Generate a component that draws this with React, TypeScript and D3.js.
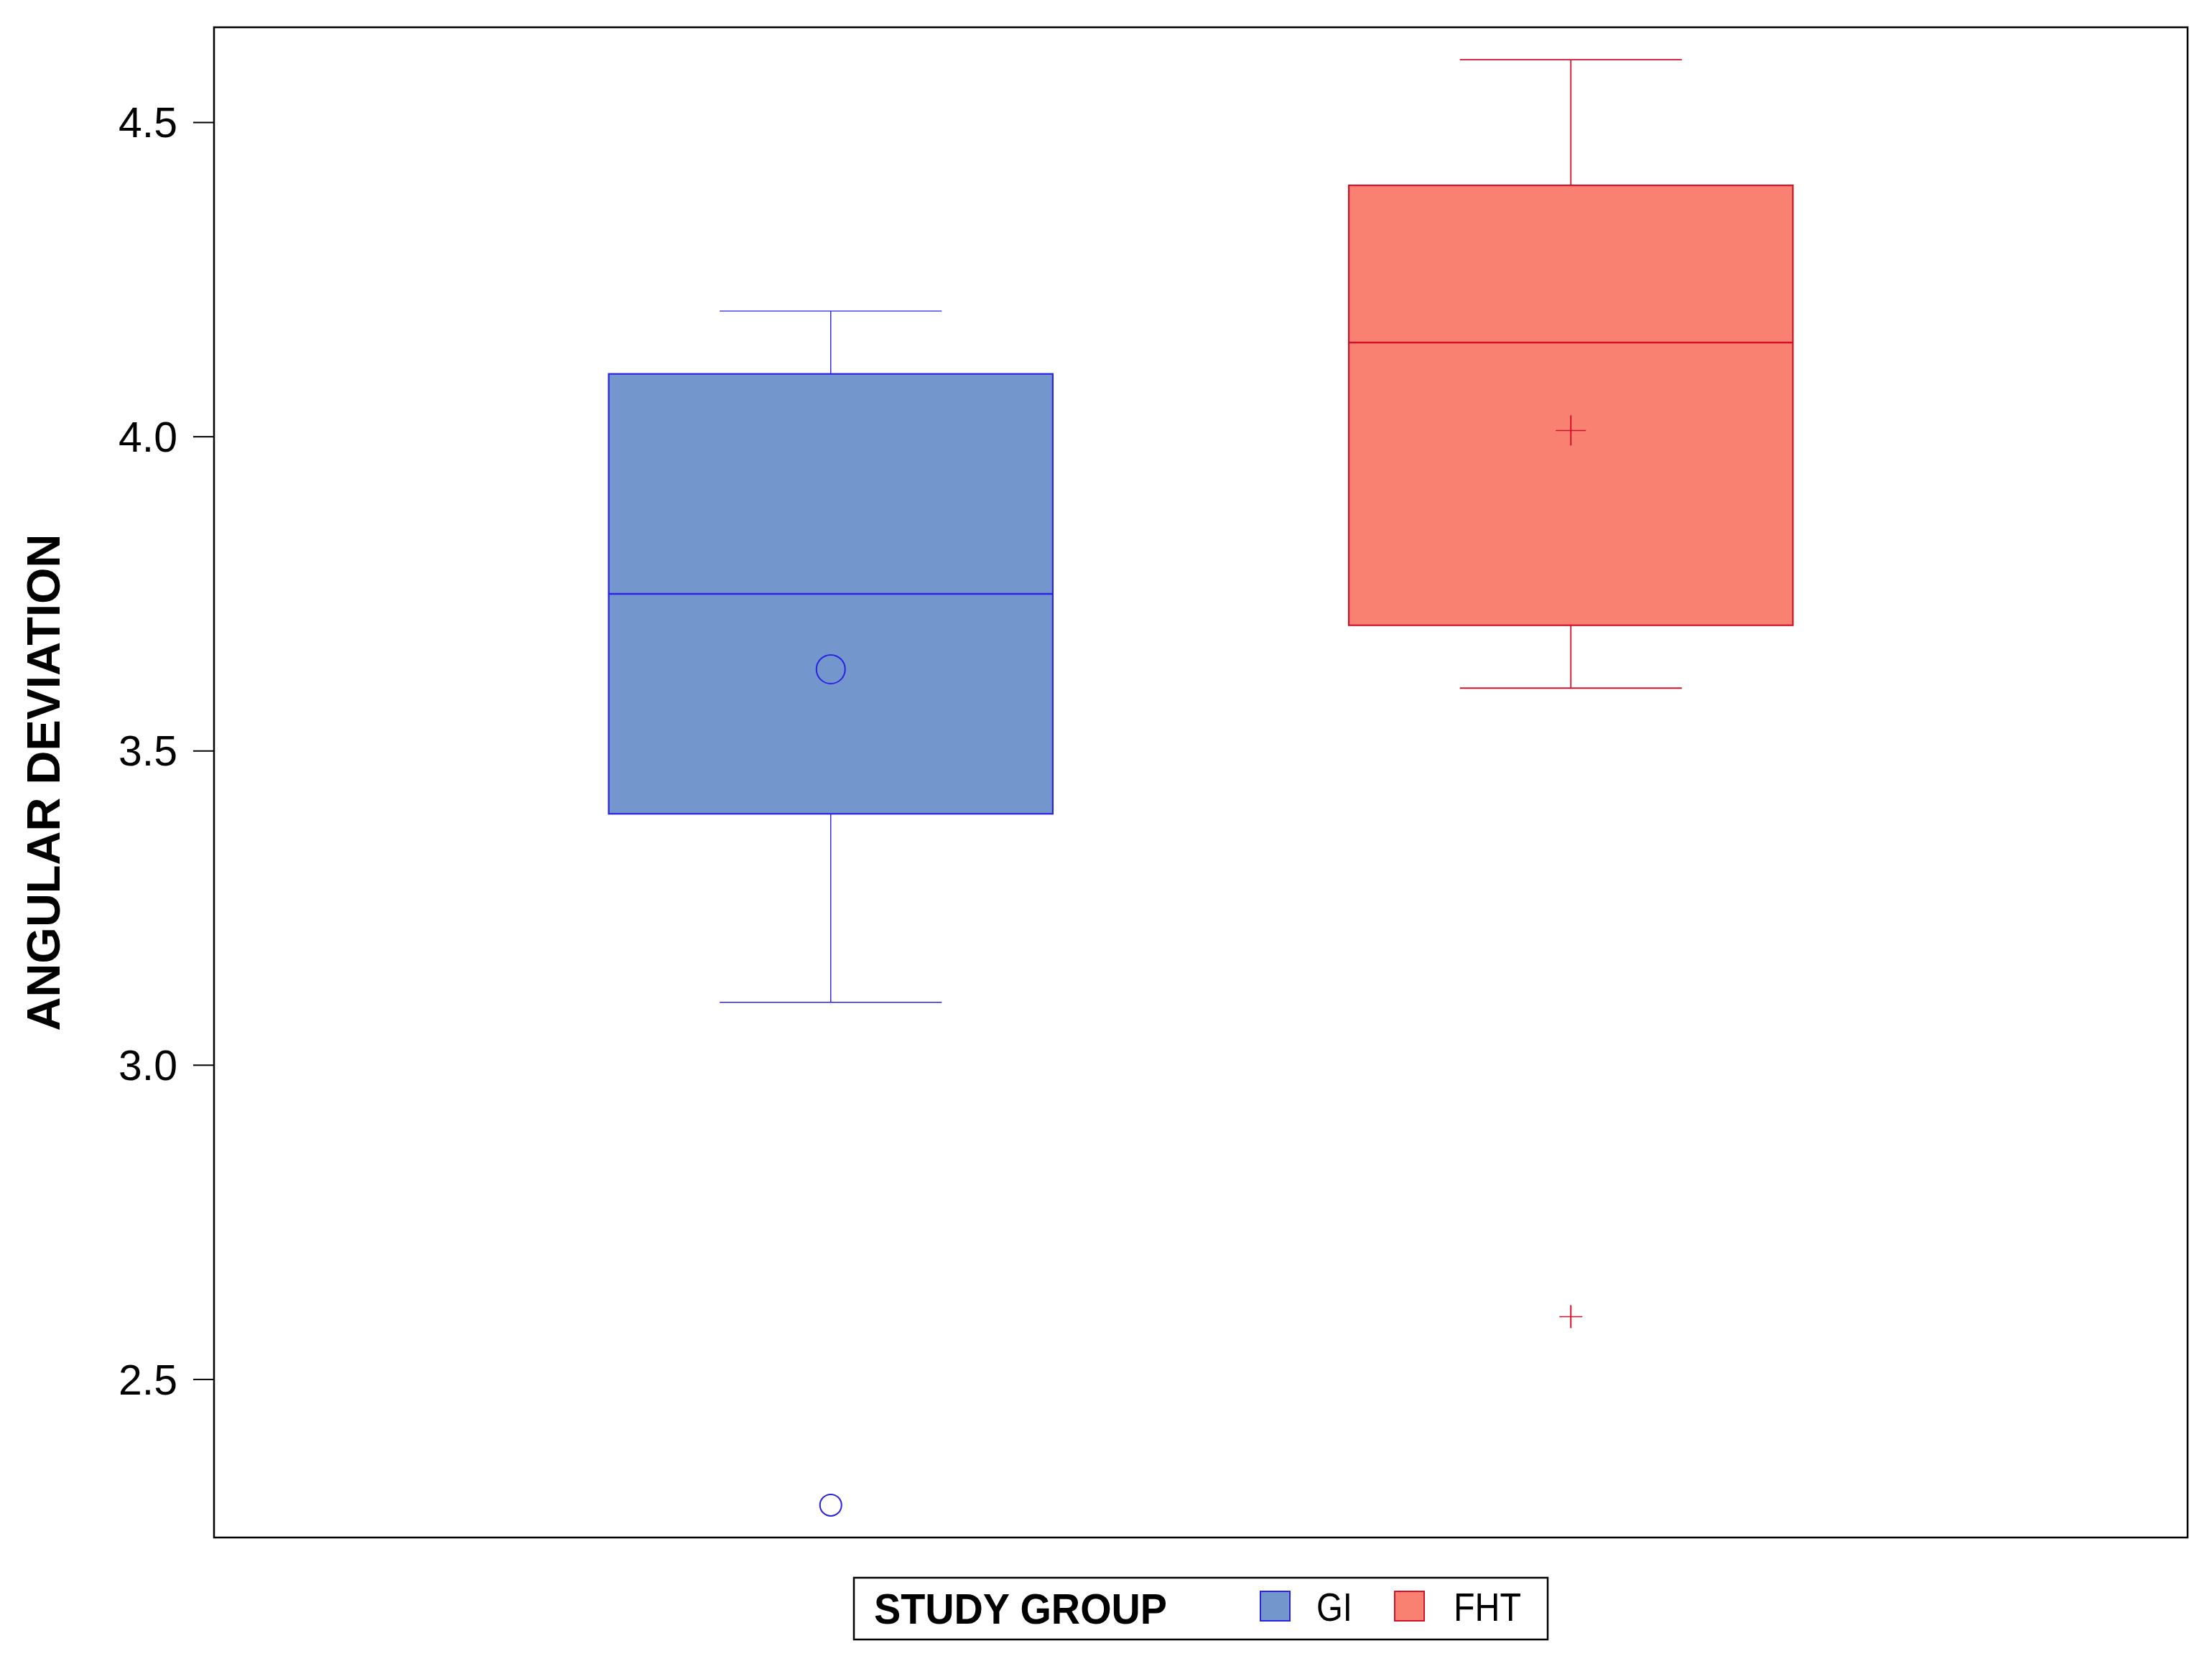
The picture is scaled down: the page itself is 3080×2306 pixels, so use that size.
import React from "react";
import * as d3 from "d3";

const groups = ["GI", "FHT"];
const q1 = [3.4, 3.7];
const medians = [3.75, 4.15];
const q3 = [4.1, 4.4];
const whiskerLow = [3.1, 3.6];
const whiskerHigh = [4.2, 4.6];
const means = [3.63, 4.01];
const outliers = [[2.3], [2.6]];
const yTicks = [2.5, 3.0, 3.5, 4.0, 4.5];

const fills = ["#7397CC", "#F88171"];
const strokes = ["#2B22E4", "#D0122C"];
const markers = ["circle", "plus"];

const W = 3080;
const H = 2306;
const left = 298;
const right = 3046;
const top = 38;
const bottom = 2141;

export default function App() {
  const x = d3.scalePoint<string>().domain(groups).range([left, right]).padding(0.8333);
  const y = d3.scaleLinear().domain([2.2485, 4.6515]).range([bottom, top]);
  const step = x.step();
  const boxW = step * 0.6;
  const capW = step * 0.3;
  const fmt = d3.format(".1f");

  const marker = (kind: string, cx: number, cy: number, r: number, color: string, key: string) =>
    kind === "circle" ? (
      <circle key={key} cx={cx} cy={cy} r={r} fill="none" stroke={color} strokeWidth={2} />
    ) : (
      <g key={key} stroke={color}>
        <line x1={cx - r} x2={cx + r} y1={cy} y2={cy} strokeWidth={1.5} />
        <line x1={cx} x2={cx} y1={cy - r} y2={cy + r} strokeWidth={2} />
      </g>
    );

  return (
    <svg width={W} height={H} style={{ position: "absolute", left: 0, top: 0, background: "#fff" }}
      fontFamily="'Liberation Sans', Arial, sans-serif">
      <rect x={0} y={0} width={W} height={H} fill="#fff" />
      {groups.map((g, i) => {
        const cx = x(g) as number;
        const c = strokes[i];
        const ww = i === 0 ? 1.4 : 1.8;
        return (
          <g key={g}>
            <line x1={cx} x2={cx} y1={y(q3[i])} y2={y(whiskerHigh[i])} stroke={c} strokeWidth={ww} />
            <line x1={cx} x2={cx} y1={y(q1[i])} y2={y(whiskerLow[i])} stroke={c} strokeWidth={ww} />
            <line x1={cx - capW / 2} x2={cx + capW / 2} y1={y(whiskerHigh[i])} y2={y(whiskerHigh[i])} stroke={c} strokeWidth={ww} />
            <line x1={cx - capW / 2} x2={cx + capW / 2} y1={y(whiskerLow[i])} y2={y(whiskerLow[i])} stroke={c} strokeWidth={ww} />
            <rect x={cx - boxW / 2} y={y(q3[i])} width={boxW} height={y(q1[i]) - y(q3[i])} fill={fills[i]} stroke={c} strokeWidth={2.2} />
            <line x1={cx - boxW / 2} x2={cx + boxW / 2} y1={y(medians[i])} y2={y(medians[i])} stroke={c} strokeWidth={2.5} />
            {marker(markers[i], cx, y(means[i]), markers[i] === "circle" ? 20 : 21, c, "mean")}
            {outliers[i].map((o, j) => marker(markers[i], cx, y(o), markers[i] === "circle" ? 15 : 16, c, "o" + j))}
          </g>
        );
      })}
      <rect x={left} y={top} width={right - left} height={bottom - top} fill="none" stroke="#000" strokeWidth={2.5} />
      {yTicks.map((t) => (
        <g key={t}>
          <line x1={left - 29} x2={left} y1={y(t)} y2={y(t)} stroke="#000" strokeWidth={2} />
          <text x={247} y={y(t)} dy="0.35em" textAnchor="end" fontSize={59} fill="#000">{fmt(t)}</text>
        </g>
      ))}
      <text transform={`translate(83,${(top + bottom) / 2}) rotate(-90)`} textAnchor="middle" fontSize={65} fontWeight="bold" fill="#000">
        ANGULAR DEVIATION
      </text>
      <g>
        <rect x={1189} y={2197} width={966} height={86} fill="#fff" stroke="#000" strokeWidth={2.5} />
        <text x={1217} y={2261} fontSize={60} fontWeight="bold" textLength={408} lengthAdjust="spacingAndGlyphs" fill="#000">STUDY GROUP</text>
        {groups.map((g, i) => {
          const sx = [1755, 1942][i];
          const tx = [1833, 2024][i];
          const tw = [50, 94][i];
          return (
            <g key={g}>
              <rect x={sx} y={2216} width={41} height={41} fill={fills[i]} stroke={strokes[i]} strokeWidth={2} />
              <text x={tx} y={2257} fontSize={56} textLength={tw} lengthAdjust="spacingAndGlyphs" fill="#000">{g}</text>
            </g>
          );
        })}
      </g>
    </svg>
  );
}
